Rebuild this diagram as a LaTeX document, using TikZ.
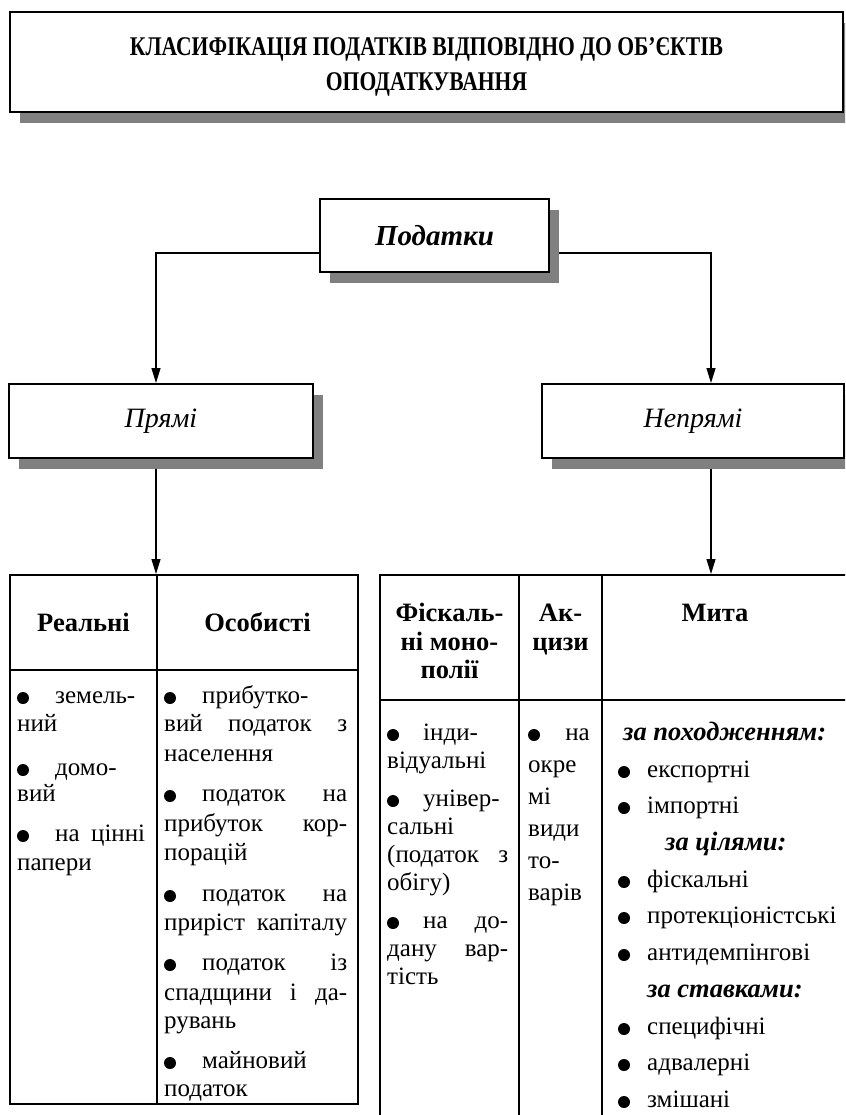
\documentclass[tikz,border=0pt]{standalone}
\usepackage{fontspec}
\setmainfont{Liberation Serif}
\newfontfamily\titlefam{Liberation Serif}[FakeStretch=0.8]
\usetikzlibrary{arrows.meta,shadows,backgrounds}

\definecolor{shgray}{RGB}{128,128,128}

% text sizes
\newcommand\body{\fontsize{25}{29}\selectfont}
\newcommand\head{\fontsize{26.5}{29}\selectfont\bfseries}
\newcommand\sub{\fontsize{26.5}{29}\selectfont\bfseries\itshape}
\newcommand\titlefont{\titlefam\fontsize{27}{35}\selectfont\bfseries}

\tikzset{
  box/.style={draw, line width=2pt, fill=white, inner sep=0pt},
  shadowed/.style={drop shadow={shadow xshift=10pt, shadow yshift=-11pt,
                   fill=shgray, opacity=1}},
  link/.style={line width=1.3pt},
  arr/.style={link, -{Triangle[length=15pt,width=9pt]}},
  grid/.style={draw, line width=2pt, inner sep=0pt},
  txt/.style={anchor=base west, inner sep=0pt, font=\body},
  txtc/.style={txt, anchor=base},
  txtr/.style={txt, anchor=base east},
}

% one line of a table cell; every line gets its own name
\newcounter{lnc}
\newcommand\Tl[3]{\stepcounter{lnc}\node[txt] (line\arabic{lnc}) at (#1,#2) {#3};}
\newcommand\Tc[3]{\stepcounter{lnc}\node[txtc] (line\arabic{lnc}) at (#1,#2) {#3};}
\newcommand\Tr[3]{\stepcounter{lnc}\node[txtr] (line\arabic{lnc}) at (#1,#2) {#3};}
% justified line: x, baseline, width, words
\newcommand\Tj[4]{\stepcounter{lnc}\node[txt] (line\arabic{lnc}) at (#1,#2) {\makebox[#3pt][s]{#4}};}
% list bullet at x, baseline
\newcommand\Bu[2]{\fill (#1+6,#2-5) circle (6pt);}

\begin{document}
\begin{tikzpicture}[x=1pt,y=-1pt]
\path[use as bounding box, clip] (0,0) rectangle (845,1115);

% ---- headline and the three boxes
\node[box, shadowed, minimum width=833pt, minimum height=100pt] (title) at (426.5,62) {};
\node[txtc, font=\titlefont] (titleA) at (426.5,56) {КЛАСИФІКАЦІЯ ПОДАТКІВ ВІДПОВІДНО ДО ОБ’ЄКТІВ};
\node[txtc, font=\titlefont] (titleB) at (426.5,91) {ОПОДАТКУВАННЯ};

\node[box, shadowed, minimum width=229pt, minimum height=73pt,
      font=\fontsize{29}{32}\selectfont\bfseries\itshape] (pod) at (434.5,235.5) {Податки};

\node[box, shadowed, minimum width=304pt, minimum height=74pt,
      font=\fontsize{28}{32}\selectfont\itshape] (pr) at (161,421) {Прямі};
\node[box, shadowed, minimum width=302pt, minimum height=74pt,
      font=\fontsize{28}{32}\selectfont\itshape] (np) at (693,421) {Непрямі};

% ---- the two tables
\node[grid, minimum width=348pt, minimum height=529pt] (lt) at (184,839.5) {};
\draw[line width=2pt] (lt.west |- 0,670) -- (lt.east |- 0,670);
\draw[line width=2pt] (157,0 |- lt.north) -- (157,0 |- lt.south);

\node[grid, minimum width=490pt, minimum height=575pt] (rt) at (625,862.5) {};
\draw[line width=2pt] (rt.west |- 0,700) -- (rt.east |- 0,700);
\draw[line width=2pt] (519,0 |- rt.north) -- (519,0 |- rt.south);
\draw[line width=2pt] (602,0 |- rt.north) -- (602,0 |- rt.south);

% ---- connectors, kept behind boxes and shadows
\begin{scope}[on background layer]
  \draw[arr] ([yshift=-17.5pt]pod.west) -| ([xshift=-5pt]pr.north);
  \draw[arr] ([yshift=-17.5pt]pod.east) -| ([xshift=18pt]np.north);
  \draw[arr] ([xshift=-5pt]pr.south) -- ([xshift=-5pt]pr.south |- lt.north);
  \draw[arr] ([xshift=18pt]np.south) -- ([xshift=18pt]np.south |- rt.north);
\end{scope}

% ---- left table: headings
\Tc{83.5}{631}{\head Реальні}
\Tc{257.5}{631}{\head Особисті}

% real taxes
\Bu{17}{703}\Tl{55}{703}{земель-}
\Tl{17}{731}{ний}
\Bu{17}{775}\Tl{55}{775}{домо-}
\Tl{17}{801}{вий}
\Bu{17}{841}\Tj{55}{841}{90}{на цінні}
\Tl{17}{870}{папери}

% personal taxes
\Bu{164}{703}\Tl{202}{703}{прибутко-}
\Tj{164}{731}{183}{вий податок з}
\Tl{164}{761}{населення}
\Bu{164}{801}\Tj{202}{801}{145}{податок на}
\Tj{164}{831}{183}{прибуток кор-}
\Tl{164}{860}{порацій}
\Bu{164}{901}\Tj{202}{901}{145}{податок на}
\Tj{164}{930}{183}{приріст капіталу}
\Bu{164}{970}\Tj{202}{970}{145}{податок із}
\Tj{164}{1000}{183}{спадщини і да-}
\Tl{164}{1028}{рувань}
\Bu{164}{1068}\Tl{202}{1068}{майновий}
\Tl{164}{1096}{податок}

% ---- right table: headings
\Tc{449.5}{621}{\head Фіскаль-}
\Tc{449.5}{650}{\head ні моно-}
\Tc{449.5}{678}{\head полії}
\Tc{560.5}{621}{\head Ак-}
\Tc{560.5}{650}{\head цизи}
\Tc{715}{621}{\head Мита}

% fiscal monopolies
\Bu{387}{740}\Tl{423}{740}{інди-}
\Tl{387}{768}{відуальні}
\Bu{387}{806}\Tl{423}{806}{універ-}
\Tl{387}{834}{сальні}
\Tj{387}{862}{121}{(податок з}
\Tl{387}{890}{обігу)}
\Bu{387}{928}\Tj{423}{928}{85}{на до-}
\Tj{387}{956}{121}{дану вар-}
\Tl{387}{984}{тість}

% excises
\Bu{528}{740}\Tr{590}{740}{на}
\Tl{528}{772}{окре}
\Tl{528}{804}{мі}
\Tl{528}{836}{види}
\Tl{528}{868}{то-}
\Tl{528}{900}{варів}

% duties
\Tl{623}{740}{\sub за походженням:}
\Bu{618}{777}\Tl{647}{777}{експортні}
\Bu{618}{813}\Tl{647}{813}{імпортні}
\Tl{665}{850}{\sub за цілями:}
\Bu{618}{887}\Tl{647}{887}{фіскальні}
\Bu{618}{923}\Tl{647}{923}{протекціоністські}
\Bu{618}{960}\Tl{647}{960}{антидемпінгові}
\Tl{647}{997}{\sub за ставками:}
\Bu{618}{1034}\Tl{647}{1034}{специфічні}
\Bu{618}{1070}\Tl{647}{1070}{адвалерні}
\Bu{618}{1107}\Tl{647}{1107}{змішані}
\end{tikzpicture}
\end{document}
